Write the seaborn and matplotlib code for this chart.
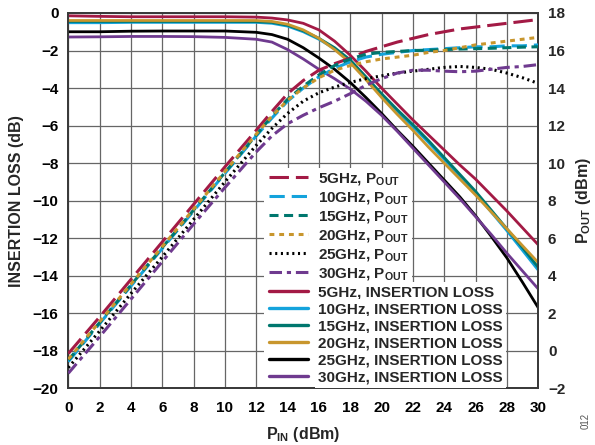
import numpy as np
import pandas as pd
import matplotlib
matplotlib.use("Agg")
import matplotlib.pyplot as plt
from matplotlib.patches import Rectangle
from matplotlib.lines import Line2D
import seaborn as sns

# ---------------- data ----------------
pin = [0, 2, 4, 6, 8, 10, 12, 13, 14, 15, 16, 17, 18, 19, 20, 21, 22, 23, 24, 25, 26, 27, 28, 29, 30]

il_5 = [-0.15, -0.18, -0.2, -0.2, -0.2, -0.2, -0.22, -0.27, -0.37, -0.55, -0.9, -1.5, -2.25, -3.1, -4.0,
        -4.85, -5.7, -6.5, -7.3, -8.1, -8.85, -9.7, -10.55, -11.45, -12.35]
il_10 = [-0.52, -0.52, -0.5, -0.5, -0.5, -0.5, -0.5, -0.55, -0.7, -1.0, -1.4, -1.9, -2.6, -3.5, -4.4,
         -5.25, -6.05, -6.9, -7.8, -8.7, -9.6, -10.6, -11.6, -12.65, -13.7]
il_15 = [-0.45, -0.45, -0.45, -0.45, -0.45, -0.45, -0.46, -0.5, -0.65, -0.95, -1.35, -1.85, -2.5, -3.4, -4.3,
         -5.15, -5.95, -6.8, -7.7, -8.6, -9.5, -10.5, -11.5, -12.5, -13.55]
il_20 = [-0.4, -0.4, -0.4, -0.4, -0.4, -0.4, -0.4, -0.45, -0.6, -0.9, -1.35, -1.95, -2.65, -3.55, -4.5,
         -5.4, -6.25, -7.15, -8.0, -8.85, -9.7, -10.6, -11.5, -12.4, -13.3]
il_25 = [-1.0, -1.0, -0.97, -0.96, -0.96, -0.96, -1.03, -1.15, -1.4, -1.85, -2.4, -3.0, -3.7, -4.5, -5.35,
         -6.25, -7.1, -8.0, -8.9, -9.8, -10.8, -11.9, -13.05, -14.35, -15.7]
il_30 = [-1.28, -1.27, -1.25, -1.25, -1.26, -1.3, -1.4, -1.55, -1.95, -2.45, -3.0, -3.5, -4.05, -4.7, -5.45,
         -6.3, -7.2, -8.1, -9.0, -9.9, -10.85, -11.8, -12.8, -13.75, -14.7]

pout_5 = [-0.15, 1.8, 3.8, 5.8, 7.8, 9.8, 11.75, 12.75, 13.7, 14.4, 14.95, 15.3, 15.6, 15.95, 16.2,
          16.45, 16.65, 16.85, 17.0, 17.15, 17.25, 17.35, 17.45, 17.55, 17.65]
pout_10 = [-0.58, 1.45, 3.45, 5.45, 7.45, 9.45, 11.45, 12.4, 13.3, 14.0, 14.6, 15.05, 15.4, 15.65, 15.8,
           15.9, 16.0, 16.05, 16.1, 16.15, 16.2, 16.2, 16.25, 16.25, 16.3]
pout_15 = [-0.5, 1.5, 3.5, 5.5, 7.5, 9.5, 11.5, 12.5, 13.4, 14.1, 14.7, 15.2, 15.55, 15.8, 15.9,
           15.95, 16.0, 16.02, 16.05, 16.08, 16.1, 16.12, 16.15, 16.18, 16.2]
pout_20 = [-0.45, 1.55, 3.55, 5.55, 7.55, 9.55, 11.55, 12.5, 13.35, 14.0, 14.55, 14.95, 15.2, 15.4, 15.55,
           15.65, 15.75, 15.9, 16.0, 16.15, 16.3, 16.4, 16.5, 16.6, 16.7]
pout_25 = [-0.9, 1.05, 3.05, 5.0, 7.0, 9.0, 10.95, 11.85, 12.65, 13.3, 13.75, 14.05, 14.3, 14.5, 14.65,
           14.8, 14.9, 15.0, 15.1, 15.15, 15.1, 15.0, 14.8, 14.55, 14.25]
pout_30 = [-1.2, 0.75, 2.75, 4.75, 6.75, 8.7, 10.6, 11.45, 12.1, 12.55, 12.95, 13.3, 13.7, 14.15, 14.5,
           14.8, 14.95, 14.95, 14.9, 14.87, 14.9, 15.0, 15.1, 15.15, 15.25]

freqs = ["5GHz", "10GHz", "15GHz", "20GHz", "25GHz", "30GHz"]
il_series = [il_5, il_10, il_15, il_20, il_25, il_30]
pout_series = [pout_5, pout_10, pout_15, pout_20, pout_25, pout_30]

x_ticks = list(range(0, 31, 2))
il_ticks = list(range(-20, 1, 2))
pout_ticks = list(range(-2, 19, 2))

# ---------------- style ----------------
colors = ["#A31A45", "#14A3DC", "#00776E", "#C8962D", "#000000", "#6F3A8F"]
dash_styles = [(14, 5), (11, 5), (6.5, 4), (3.5, 3.5), (1.5, 2.6), (9, 3.5, 3, 3.5)]

sns.set_style("white")
plt.rcParams["font.family"] = ["Liberation Sans", "DejaVu Sans"]
plt.rcParams["font.weight"] = "bold"
plt.rcParams["axes.labelweight"] = "bold"
plt.rcParams["mathtext.fontset"] = "custom"
plt.rcParams["mathtext.rm"] = "Liberation Sans:bold"
plt.rcParams["mathtext.bf"] = "Liberation Sans:bold"
plt.rcParams["mathtext.it"] = "Liberation Sans:bold"
plt.rcParams["lines.scale_dashes"] = False
plt.rcParams["axes.unicode_minus"] = True

fig = plt.figure(figsize=(5.95, 4.45), dpi=100)
ax = fig.add_axes([0.1148, 0.1274, 0.7897, 0.8434])
ax2 = ax.twinx()

il_df = pd.DataFrame({
    "pin": np.tile(pin, len(freqs)),
    "val": np.concatenate(il_series),
    "series": np.repeat([f + ", INSERTION LOSS" for f in freqs], len(pin)),
})
pout_df = pd.DataFrame({
    "pin": np.tile(pin, len(freqs)),
    "val": np.concatenate(pout_series),
    "series": np.repeat([f + ", POUT" for f in freqs], len(pin)),
})

il_pal = {f + ", INSERTION LOSS": c for f, c in zip(freqs, colors)}
pout_pal = {f + ", POUT": c for f, c in zip(freqs, colors)}
pout_dash = {f + ", POUT": d for f, d in zip(freqs, dash_styles)}

sns.lineplot(data=il_df, x="pin", y="val", hue="series", palette=il_pal,
             estimator=None, sort=False, lw=2.0, legend=False, ax=ax, zorder=3)
sns.lineplot(data=pout_df, x="pin", y="val", hue="series", style="series",
             palette=pout_pal, dashes=pout_dash, estimator=None, sort=False,
             lw=2.2, legend=False, ax=ax2, zorder=3)

ax.set_xlim(0, 30)
ax.set_ylim(-20, 0)
ax2.set_ylim(-2, 18)
ax.set_xticks(x_ticks)
ax.set_yticks(il_ticks)
ax2.set_yticks(pout_ticks)

ax.set_axisbelow(True)
ax.grid(True, color="#666666", lw=0.9)
for a in (ax, ax2):
    for s in a.spines.values():
        s.set_color("#3A3A3A")
        s.set_linewidth(1.3)
        s.set_visible(True)
ax.tick_params(axis="both", length=0, labelsize=11, colors="black")
ax.tick_params(axis="x", pad=9)
ax.tick_params(axis="y", pad=7)
ax2.tick_params(axis="y", length=0, labelsize=11, pad=7)

ax.set_xlabel(r"P$_{\mathbf{IN}}$ (dBm)", fontsize=11.5, labelpad=7)
ax.set_ylabel("INSERTION LOSS (dB)", fontsize=11.5, labelpad=6)
ax2.set_ylabel(r"P$_{\mathbf{OUT}}$ (dBm)", fontsize=11.5, labelpad=6)

# ---------------- legend ----------------
handles = []
labels = []
for f, c, d in zip(freqs, colors, dash_styles):
    h = Line2D([], [], color=c, lw=2.2)
    h.set_dashes(d)
    handles.append(h)
    labels.append(f + r", P$_{\mathbf{OUT}}$")
for f, c in zip(freqs, colors):
    handles.append(Line2D([], [], color=c, lw=2.4))
    labels.append(f + ", INSERTION LOSS")

leg = ax2.legend(handles, labels, loc="upper left", bbox_to_anchor=(0.4277, 0.579),
                 frameon=False, borderpad=0, borderaxespad=0, fontsize=11,
                 handlelength=2.55, handletextpad=0.65, labelspacing=0.2)
leg.set_zorder(10)
for t in leg.get_texts():
    t.set_bbox(dict(facecolor="white", edgecolor="none", pad=2.2))

fig.canvas.draw()
renderer = fig.canvas.get_renderer()
lbb = leg.get_window_extent(renderer)
tx0 = min(t.get_window_extent(renderer).x0 for t in leg.get_texts())
inv = ax.transAxes.inverted()
x0, y0 = inv.transform((lbb.x0 - 5, lbb.y0 - 3))
x1, y1 = inv.transform((tx0, lbb.y1 + 3))
ax.add_patch(Rectangle((x0, y0), x1 - x0, y1 - y0, transform=ax.transAxes,
                       facecolor="white", edgecolor="none", zorder=1))

fig.text(0.993, 0.035, "012", rotation=90, fontsize=7, color="#555555",
         fontweight="normal", ha="right", va="bottom")

fig.savefig("out.png", dpi=100)
